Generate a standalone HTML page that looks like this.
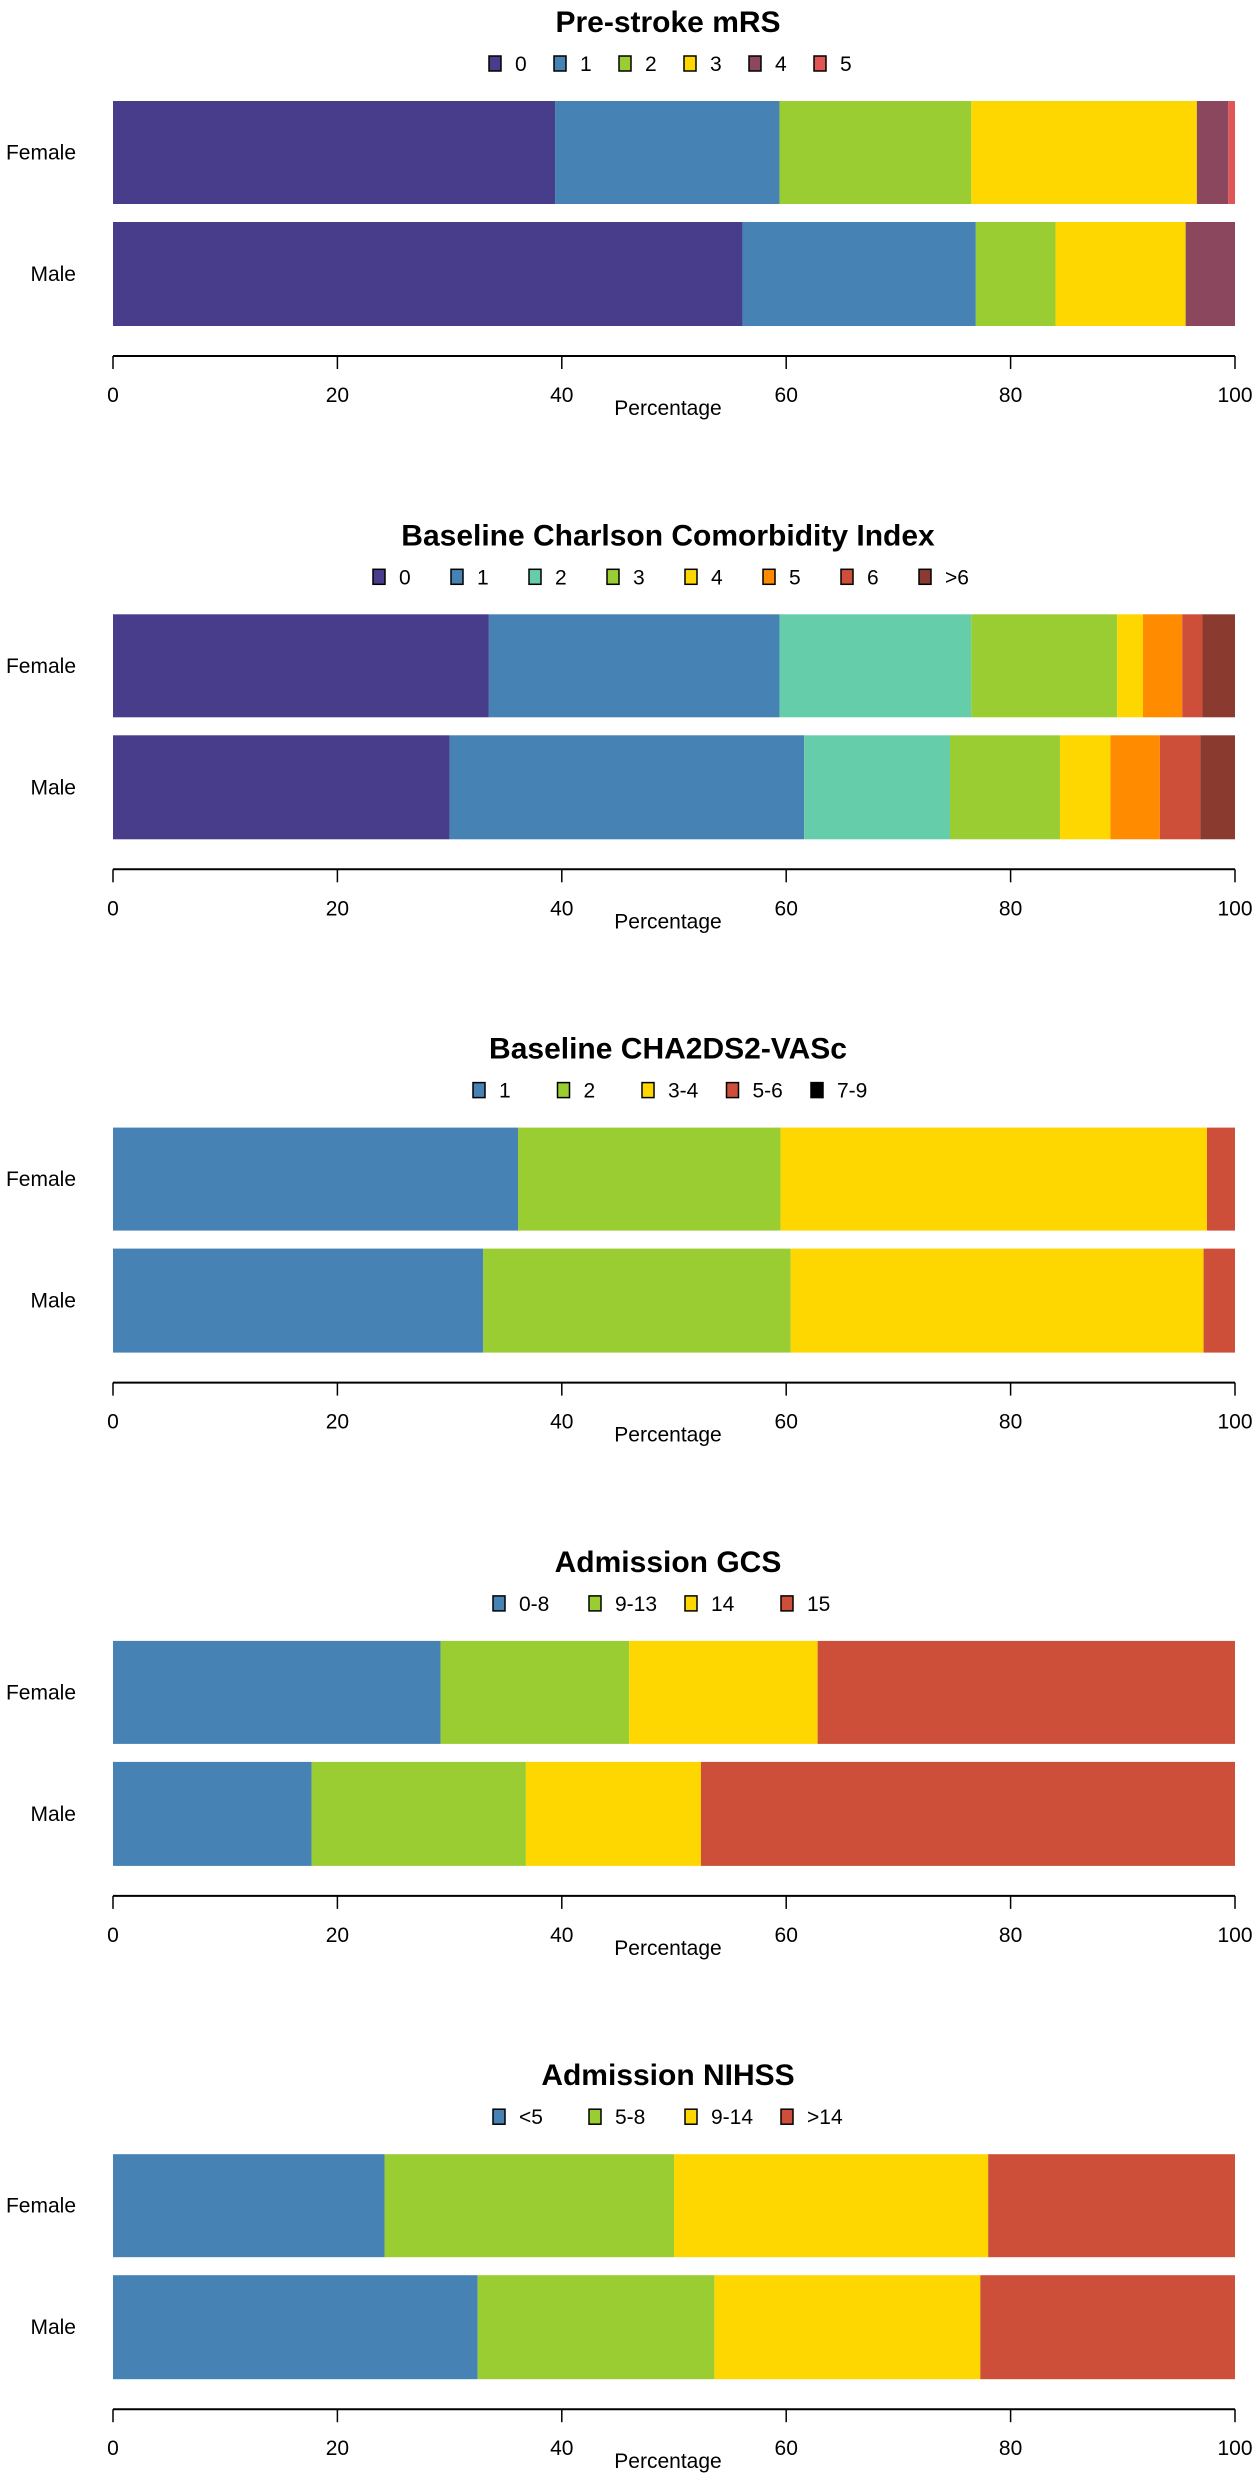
<!DOCTYPE html>
<html><head><meta charset="utf-8">
<style>
html,body{margin:0;padding:0;background:#fff;}
svg{display:block;font-family:"Liberation Sans",Arial,sans-serif;}
</style></head>
<body>
<svg id="chart" width="1259" height="2480" viewBox="0 0 1259 2480" xmlns="http://www.w3.org/2000/svg"></svg>
<script>
// ---- data ----
const titles = ["Pre-stroke mRS","Baseline Charlson Comorbidity Index","Baseline CHA2DS2-VASc","Admission GCS","Admission NIHSS"];
const groups = ["Female","Male"];
const tickLabels = [0,20,40,60,80,100];
const cats1 = ["0","1","2","3","4","5"];
const female1 = [39.4,20.0,17.1,20.1,2.8,0.6];
const male1 = [56.1,20.8,7.1,11.6,4.4,0.0];
const cats2 = ["0","1","2","3","4","5","6",">6"];
const female2 = [33.5,25.9,17.1,13.0,2.3,3.5,1.8,2.9];
const male2 = [30.0,31.6,13.0,9.8,4.5,4.4,3.6,3.1];
const cats3 = ["1","2","3-4","5-6","7-9"];
const female3 = [36.1,23.4,38.0,2.5,0.0];
const male3 = [33.0,27.4,36.8,2.8,0.0];
const cats4 = ["0-8","9-13","14","15"];
const female4 = [29.2,16.8,16.8,37.2];
const male4 = [17.7,19.1,15.6,47.6];
const cats5 = ["<5","5-8","9-14",">14"];
const female5 = [24.2,25.8,28.0,22.0];
const male5 = [32.5,21.1,23.7,22.7];

const palettes = [
 ["#483D8B","#4682B4","#9ACD32","#FFD700","#8B475D","#E05555"],
 ["#483D8B","#4682B4","#66CDAA","#9ACD32","#FFD700","#FF8C00","#CD4F39","#8B3A2F"],
 ["#4682B4","#9ACD32","#FFD700","#CD4F39","#000000"],
 ["#4682B4","#9ACD32","#FFD700","#CD4F39"],
 ["#4682B4","#9ACD32","#FFD700","#CD4F39"]
];
const legendStart = [495,379,479,499,499];
const legendStep = [65,78,84.5,96,96];

const charts = [
 {cats:cats1, f:female1, m:male1},
 {cats:cats2, f:female2, m:male2},
 {cats:cats3, f:female3, m:male3},
 {cats:cats4, f:female4, m:male4},
 {cats:cats5, f:female5, m:male5}
];

const NS = "http://www.w3.org/2000/svg";
const svg = document.getElementById("chart");
const X0 = 113, X1 = 1235;
function xScale(v){ return X0 + (X1 - X0) * v / 100; }
function mk(tag, attrs, parent){
  const e = document.createElementNS(NS, tag);
  for (const k in attrs) e.setAttribute(k, attrs[k]);
  (parent || svg).appendChild(e);
  return e;
}

charts.forEach((c, i) => {
  const off = i * 513.3;
  const g = mk("g", {});
  
  

  const t = mk("text", {x: 668, y: off + 32, "text-anchor": "middle", "font-size": 30, "font-weight": "bold", fill: "#000"}, g);
  t.textContent = titles[i];
  
  

  // legend
  c.cats.forEach((cat, j) => {
    const lx = legendStart[i] + j * legendStep[i];
    const box = mk("rect", {x: lx - 6, y: off + 56, width: 12, height: 15, fill: palettes[i][j], stroke: "#000", "stroke-width": 1.5}, g);
    
    
    const lt = mk("text", {x: lx + 20, y: off + 71, "font-size": 21, fill: "#000", "text-anchor": "start"}, g);
    lt.textContent = cat;
    
    
  });

  // bars
  const rows = [{vals: c.f, y0: 101, y1: 204}, {vals: c.m, y0: 222, y1: 326}];
  rows.forEach((r, k) => {
    let cum = 0;
    r.vals.forEach((v, j) => {
      if (v <= 0) { cum += v; return; }
      const rect = mk("rect", {x: xScale(cum), y: off + r.y0, width: xScale(cum + v) - xScale(cum), height: r.y1 - r.y0, fill: palettes[i][j]}, g);
      
      
      cum += v;
    });
    const gl = mk("text", {x: 76, y: off + (r.y0 + r.y1) / 2 + 7, "text-anchor": "end", "font-size": 21, fill: "#000"}, g);
    gl.textContent = groups[k];
    
    
  });

  // axis
  const ax = mk("line", {x1: X0, x2: X1, y1: off + 356, y2: off + 356, stroke: "#000", "stroke-width": 2}, g);
  
  
  tickLabels.forEach(tv => {
    const tk = mk("line", {x1: xScale(tv), x2: xScale(tv), y1: off + 356, y2: off + 369, stroke: "#000", "stroke-width": 1.5}, g);
    
    
    const tl = mk("text", {x: xScale(tv), y: off + 402, "text-anchor": "middle", "font-size": 21, fill: "#000"}, g);
    tl.textContent = tv;
    
    
  });
  const xt = mk("text", {x: 668, y: off + 415, "text-anchor": "middle", "font-size": 21, fill: "#000"}, g);
  xt.textContent = "Percentage";
  
  
});
</script>
</body></html>
